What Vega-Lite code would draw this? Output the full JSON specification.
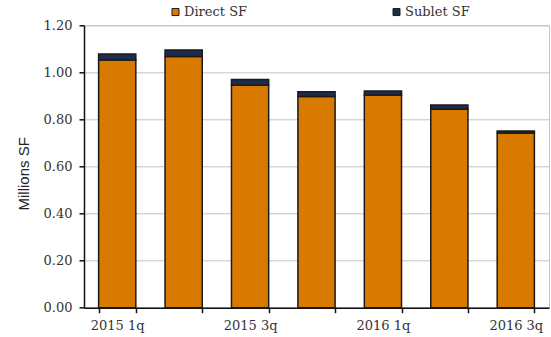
{
  "$schema": "https://vega.github.io/schema/vega-lite/v6.json",
  "autosize": "none",
  "padding": {"left": 84, "top": 25.3, "right": 2, "bottom": 29.3},
  "width": 465,
  "height": 282.4,
  "background": "white",
  "config": {
    "view": {"stroke": "#c4c4c4", "strokeWidth": 1},
    "axis": {
      "labelFont": "DejaVu Serif",
      "labelFontSize": 13,
      "labelColor": "#333333",
      "domainColor": "#111111",
      "domainWidth": 1.5,
      "tickColor": "#111111",
      "tickWidth": 1.5,
      "tickSize": 5
    }
  },
  "data": {
    "values": [
      {"quarter": "2015 1q", "type": "Direct SF", "sf": 1.053},
      {"quarter": "2015 1q", "type": "Sublet SF", "sf": 0.025},
      {"quarter": "2015 2q", "type": "Direct SF", "sf": 1.067},
      {"quarter": "2015 2q", "type": "Sublet SF", "sf": 0.028},
      {"quarter": "2015 3q", "type": "Direct SF", "sf": 0.946},
      {"quarter": "2015 3q", "type": "Sublet SF", "sf": 0.024},
      {"quarter": "2015 4q", "type": "Direct SF", "sf": 0.897},
      {"quarter": "2015 4q", "type": "Sublet SF", "sf": 0.021},
      {"quarter": "2016 1q", "type": "Direct SF", "sf": 0.904},
      {"quarter": "2016 1q", "type": "Sublet SF", "sf": 0.017},
      {"quarter": "2016 2q", "type": "Direct SF", "sf": 0.843},
      {"quarter": "2016 2q", "type": "Sublet SF", "sf": 0.018},
      {"quarter": "2016 3q", "type": "Direct SF", "sf": 0.742},
      {"quarter": "2016 3q", "type": "Sublet SF", "sf": 0.009}
    ]
  },
  "mark": {"type": "bar", "stroke": "#1a1a1a", "strokeWidth": 1.5},
  "encoding": {
    "x": {
      "field": "quarter",
      "type": "nominal",
      "sort": null,
      "scale": {"paddingInner": 0.44, "paddingOuter": 0.22},
      "axis": {
        "title": null,
        "labelAngle": 0,
        "tickBand": "extent",
        "labelPadding": 7,
        "labelExpr": "indexof(['2015 1q','2015 3q','2016 1q','2016 3q'], datum.value) >= 0 ? datum.value : ''"
      }
    },
    "y": {
      "field": "sf",
      "type": "quantitative",
      "stack": "zero",
      "scale": {"domain": [0, 1.2], "nice": false},
      "axis": {
        "title": "Millions SF",
        "titleFont": "Liberation Sans",
        "titleFontSize": 15,
        "titleFontWeight": "normal",
        "titleColor": "#222222",
        "titlePadding": 12,
        "titleY": 148,
        "values": [0, 0.2, 0.4, 0.6, 0.8, 1.0, 1.2],
        "format": ".2f",
        "labelPadding": 7,
        "gridColor": "#c4c4c4",
        "gridWidth": 1
      }
    },
    "color": {
      "field": "type",
      "type": "nominal",
      "scale": {"domain": ["Direct SF", "Sublet SF"], "range": ["#d97a00", "#1d2c4c"]},
      "legend": {
        "title": null,
        "orient": "none",
        "direction": "horizontal",
        "legendX": 85,
        "legendY": -20,
        "symbolType": "square",
        "symbolSize": 49,
        "symbolStrokeColor": "#1a1a1a",
        "symbolStrokeWidth": 1,
        "labelFont": "DejaVu Serif",
        "labelFontSize": 13,
        "labelColor": "#333333",
        "labelOffset": 2,
        "columnPadding": 142
      }
    },
    "order": {"field": "type", "sort": "ascending"}
  }
}
